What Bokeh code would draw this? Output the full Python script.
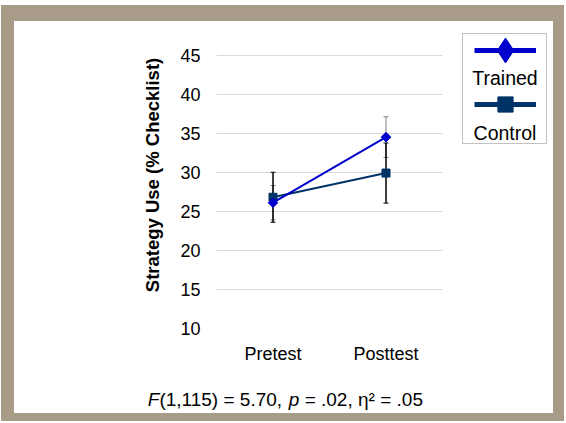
from bokeh.plotting import figure
from bokeh.layouts import column, row
from bokeh.models import (ColumnDataSource, FactorRange, Range1d, FixedTicker, Whisker, TeeHead,
                          Legend, LegendItem, Label, BoxAnnotation, Spacer)
from bokeh.embed import file_html
from bokeh.resources import INLINE

# ---- data ----
phases = ["Pretest", "Posttest"]
trained_mean = [26.1, 34.5]
trained_err = [2.2, 2.6]
control_mean = [26.8, 29.9]
control_err = [3.2, 3.85]
y_ticks = [10, 15, 20, 25, 30, 35, 40, 45]
series_names = ["Trained", "Control"]
y_title = "Strategy Use (% Checklist)"
stat_parts = ["F", "(1,115) = 5.70,", "p", "= .02, η² = .05"]

# ---- style ----
BLUE = "#0000CC"
NAVY = "#003366"
BEIGE = "#A89C88"
FONT = "Liberation Sans"


def bare(fig):
    fig.outline_line_color = None
    fig.background_fill_color = "white"
    fig.border_fill_color = "white"
    fig.axis.visible = False
    fig.grid.visible = False


# ---- main chart ----
p = figure(x_range=FactorRange(*phases, range_padding=0), y_range=Range1d(10, 49.3),
           width=440, height=352, output_backend="svg", toolbar_location=None,
           min_border_left=202, min_border_right=12, min_border_top=0, min_border_bottom=45)
p.outline_line_color = None
p.background_fill_color = "white"
p.border_fill_color = "white"
p.xgrid.visible = False
p.ygrid.grid_line_color = "#D9D9D9"
p.ygrid.grid_line_width = 1

p.yaxis.ticker = FixedTicker(ticks=y_ticks)
for ax in (p.xaxis[0], p.yaxis[0]):
    ax.axis_line_color = None
    ax.major_tick_line_color = None
    ax.minor_tick_line_color = None
    ax.major_tick_out = 0
    ax.major_tick_in = 0
    ax.minor_tick_out = 0
    ax.major_label_text_font = FONT
    ax.major_label_text_color = "#000000"
p.yaxis.major_label_text_font_size = "18px"
p.yaxis.major_label_standoff = 16
p.xaxis.major_label_text_font_size = "18px"
p.xaxis.major_label_standoff = 15
p.yaxis.axis_label = y_title
p.yaxis.axis_label_text_font = FONT
p.yaxis.axis_label_text_font_style = "bold"
p.yaxis.axis_label_text_font_size = "18.5px"
p.yaxis.axis_label_text_color = "#000000"
p.yaxis.axis_label_standoff = 14

src_t = ColumnDataSource(dict(x=phases, y=trained_mean,
                              lo=[m - e for m, e in zip(trained_mean, trained_err)],
                              hi=[m + e for m, e in zip(trained_mean, trained_err)]))
src_c = ColumnDataSource(dict(x=phases, y=control_mean,
                              lo=[m - e for m, e in zip(control_mean, control_err)],
                              hi=[m + e for m, e in zip(control_mean, control_err)]))

for src, col, lw in ((src_t, "#808080", 1), (src_c, "#000000", 1.5)):
    w = Whisker(base="x", upper="hi", lower="lo", source=src, line_color=col, line_width=lw,
                upper_head=TeeHead(size=5, line_color=col, line_width=1),
                lower_head=TeeHead(size=5, line_color=col, line_width=1))
    p.add_layout(w)

p.line("x", "y", source=src_c, line_color=NAVY, line_width=2)
p.scatter("x", "y", source=src_c, marker="square", size=8, color=NAVY)
p.line("x", "y", source=src_t, line_color=BLUE, line_width=2)
p.scatter("x", "y", source=src_t, marker="square", angle=0.7853982, size=6.8, color=BLUE)

# ---- legend panel (glyph above label, as in reference) ----
# legend proxies share the data, but this panel's y range keeps them out of view
lg = figure(x_range=FactorRange(*phases), y_range=Range1d(100, 101), width=99, height=352,
            output_backend="svg", toolbar_location=None, min_border=0)
bare(lg)
lt_line = lg.line("x", "y", source=src_t, line_color=BLUE, line_width=5)
lt_mark = lg.scatter("x", "y", source=src_t, marker="diamond", color=BLUE)
lc_line = lg.line("x", "y", source=src_c, line_color=NAVY, line_width=5)
lc_mark = lg.scatter("x", "y", source=src_c, marker="square", color=NAVY)


def mk_legend(rends, gh, loc):
    return Legend(items=[LegendItem(label=" ", renderers=rends, index=0)], location=loc,
                  glyph_width=62, glyph_height=gh, padding=0, margin=0, spacing=0,
                  label_standoff=0, label_width=0, label_height=0,
                  border_line_color=None, background_fill_alpha=0)


lg.add_layout(BoxAnnotation(left=8, right=92, top=295, bottom=185,
                            left_units="screen", right_units="screen",
                            top_units="screen", bottom_units="screen",
                            fill_alpha=0, line_color="#333333", line_width=1))
lg.add_layout(mk_legend([lt_line, lt_mark], 62, (20, 247)))
lg.add_layout(mk_legend([lc_line, lc_mark], 38, (20, 205)))

for name, yy in zip(series_names, (251, 196)):
    lg.add_layout(Label(x=50.5, y=yy, x_units="screen", y_units="screen", text=name,
                        text_align="center", text_baseline="middle",
                        text_font=FONT, text_font_size="19.5px", text_color="#000000"))

# ---- statistics line ----
st = figure(x_range=Range1d(0, 1), y_range=Range1d(0, 1), width=539, height=40,
            output_backend="svg", toolbar_location=None, min_border=0)
bare(st)
offsets_em = [0.0, 0.611, 7.421, 8.255]
fs = 19
for part, off in zip(stat_parts, offsets_em):
    italic = part in ("F", "p")
    st.add_layout(Label(x=133.3 + off * fs, y=14.5, x_units="screen", y_units="screen", text=part,
                        text_align="left", text_baseline="middle",
                        text_font=FONT, text_font_size=f"{fs}px",
                        text_font_style="italic" if italic else "normal",
                        text_color="#000000"))

content = column(row(p, lg, spacing=0), st, spacing=0)
content.styles = {"box-shadow": "-1px -4px 0 12px " + BEIGE, "background-color": "white"}
layout = column(Spacer(width=553, height=21), row(Spacer(width=14, height=392), content, spacing=0),
                spacing=0)

open("out.html", "w").write(file_html(layout, INLINE))
